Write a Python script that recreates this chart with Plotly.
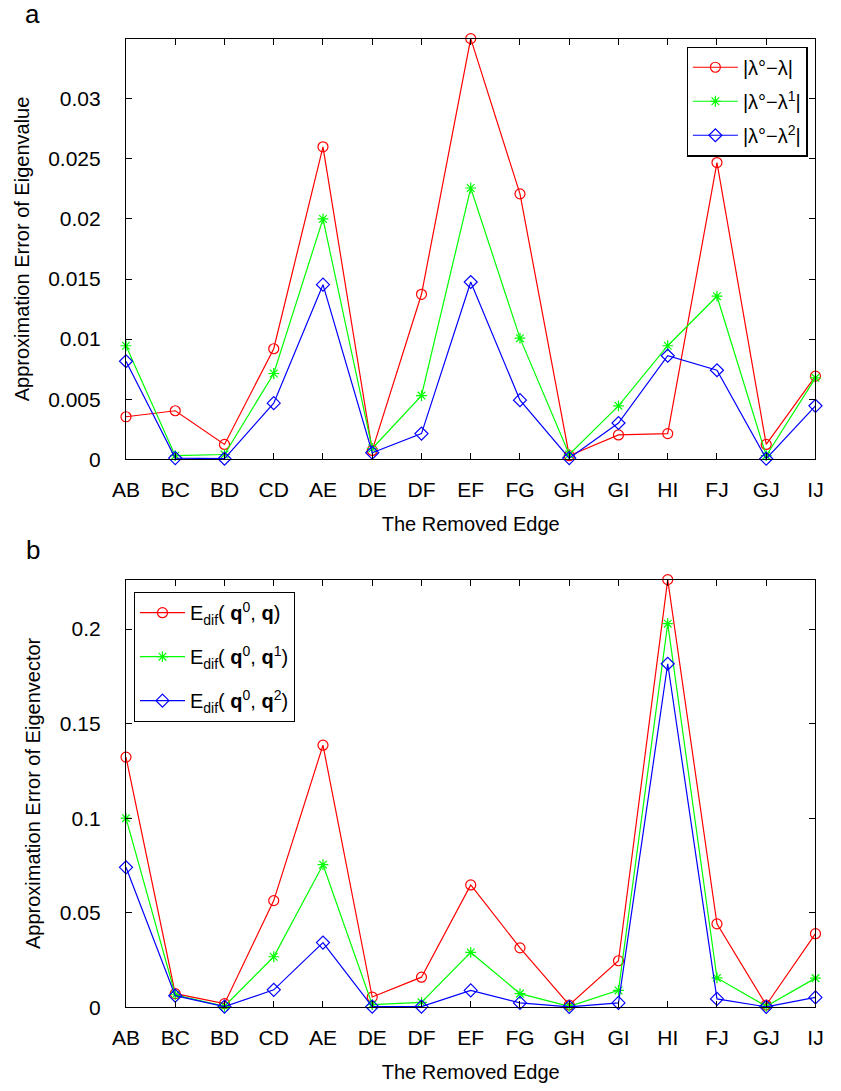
import plotly.graph_objects as go

edges = ["AB", "BC", "BD", "CD", "AE", "DE", "DF", "EF", "FG", "GH", "GI", "HI", "FJ", "GJ", "IJ"]

# Panel a: approximation error of eigenvalue
eig_err0 = [0.00354, 0.00404, 0.00124, 0.0092, 0.0260, 0.00074, 0.01373, 0.0350, 0.02208, 0.0003, 0.00203, 0.00214, 0.02469, 0.00124, 0.00692]
eig_err1 = [0.00945, 0.0003, 0.0004, 0.00714, 0.0200, 0.0009, 0.0053, 0.02257, 0.01008, 0.0004, 0.00445, 0.00945, 0.01357, 0.0003, 0.00678]
eig_err2 = [0.00816, 0.0001, 0.00005, 0.00467, 0.01453, 0.00055, 0.00214, 0.01475, 0.00492, 0.0001, 0.00302, 0.00862, 0.00741, 0.00005, 0.00445]

# Panel b: approximation error of eigenvector
vec_err0 = [0.1323, 0.0072, 0.0019, 0.0564, 0.1386, 0.0054, 0.0159, 0.0647, 0.0314, 0.0012, 0.0246, 0.2262, 0.0441, 0.0012, 0.0389]
vec_err1 = [0.1000, 0.0066, 0.0005, 0.0267, 0.0754, 0.0014, 0.0026, 0.0290, 0.0072, 0.0005, 0.0089, 0.2029, 0.0155, 0.0005, 0.0154]
vec_err2 = [0.0740, 0.0061, 0.0003, 0.0092, 0.0342, 0.0003, 0.0003, 0.0089, 0.0023, 0.0002, 0.0023, 0.1817, 0.0044, 0.0002, 0.0052]

names_a = ["|λ°−λ|", "|λ°−λ<sup>1</sup>|", "|λ°−λ<sup>2</sup>|"]
names_b = ["E<sub>dif</sub>( <b>q</b><sup>0</sup>, <b>q</b>)",
           "E<sub>dif</sub>( <b>q</b><sup>0</sup>, <b>q</b><sup>1</sup>)",
           "E<sub>dif</sub>( <b>q</b><sup>0</sup>, <b>q</b><sup>2</sup>)"]

yticks_a = [0, 0.005, 0.01, 0.015, 0.02, 0.025, 0.03]
yticktext_a = ["0", "0.005", "0.01", "0.015", "0.02", "0.025", "0.03"]
yticks_b = [0, 0.05, 0.1, 0.15, 0.2]
yticktext_b = ["0", "0.05", "0.1", "0.15", "0.2"]

colors = ["#ff0000", "#00ff00", "#0000ff"]
symbols = ["circle-open", "asterisk-open", "diamond-open"]
sizes = [10, 9, 10]

FONT = "Liberation Sans, Arial, sans-serif"
FS = 21
fig = go.Figure()

x_idx = list(range(1, len(edges) + 1))

for i, (ys, nm) in enumerate(zip([eig_err0, eig_err1, eig_err2], names_a)):
    fig.add_trace(go.Scatter(
        x=x_idx, y=ys, name=nm, mode="lines+markers", legendgroup="a%d" % i,
        line=dict(color=colors[i], width=1.2),
        marker=dict(symbol=symbols[i], size=sizes[i], color=colors[i], line=dict(width=1.2, color=colors[i])),
        xaxis="x", yaxis="y", legend="legend", cliponaxis=False))

for i, (ys, nm) in enumerate(zip([vec_err0, vec_err1, vec_err2], names_b)):
    fig.add_trace(go.Scatter(
        x=x_idx, y=ys, name=nm, mode="lines+markers", legendgroup="b%d" % i,
        line=dict(color=colors[i], width=1.2),
        marker=dict(symbol=symbols[i], size=sizes[i], color=colors[i], line=dict(width=1.2, color=colors[i])),
        xaxis="x2", yaxis="y2", legend="legend2", cliponaxis=False))

W, H = 841, 1091
xd = [115 / W, 823 / W]

common_x = dict(
    range=[1, 15], tickmode="array", tickvals=x_idx, ticktext=edges,
    ticks="inside", ticklen=6, tickcolor="black", showline=True, linecolor="black",
    linewidth=1.2, mirror="ticks", showgrid=False, zeroline=False,
    tickfont=dict(size=FS, color="black", family=FONT), ticklabelstandoff=11,
    title=dict(text="The Removed Edge", font=dict(size=FS - 1, color="black", family=FONT), standoff=17),
)
common_y = dict(
    ticks="inside", ticklen=6, tickcolor="black", showline=True, linecolor="black",
    linewidth=1.2, mirror="ticks", showgrid=False, zeroline=False,
    tickfont=dict(size=FS, color="black", family=FONT), ticklabelstandoff=20,
)

fig.update_layout(
    width=W, height=H,
    margin=dict(l=0, r=0, t=0, b=0),
    paper_bgcolor="white", plot_bgcolor="white",
    font=dict(family=FONT, color="black", size=FS),
    xaxis=dict(domain=xd, anchor="y", **common_x),
    yaxis=dict(domain=[1 - 464 / H, 1 - 39 / H], anchor="x", range=[0, 0.035],
               tickvals=yticks_a, ticktext=yticktext_a,
               title=dict(text="Approximation Error of Eigenvalue", font=dict(size=FS - 1, family=FONT), standoff=13),
               **common_y),
    xaxis2=dict(domain=xd, anchor="y2", **common_x),
    yaxis2=dict(domain=[1 - 1017.5 / H, 1 - 585.5 / H], anchor="x2", range=[0, 0.2262],
                tickvals=yticks_b, ticktext=yticktext_b,
                title=dict(text="Approximation Error of Eigenvector", font=dict(size=FS - 1, family=FONT), standoff=13),
                **common_y),
    legend=dict(x=815 / W, xanchor="right", y=1 - 47 / H, yanchor="top",
                bgcolor="white", bordercolor="black", borderwidth=1.2, tracegroupgap=5,
                itemwidth=45,
                font=dict(size=20, family=FONT, color="black")),
    legend2=dict(x=123 / W, xanchor="left", y=1 - 598 / H, yanchor="top",
                 bgcolor="white", bordercolor="black", borderwidth=1.2, tracegroupgap=15,
                 itemwidth=45,
                 font=dict(size=20, family=FONT, color="black")),
    showlegend=True,
    annotations=[
        dict(text="a", x=19 / W, y=1 - 14 / H, xref="paper", yref="paper", xanchor="center", yanchor="middle",
             showarrow=False, font=dict(size=26, family=FONT, color="black")),
        dict(text="b", x=19 / W, y=1 - 556 / H, xref="paper", yref="paper", xanchor="center", yanchor="middle",
             showarrow=False, font=dict(size=26, family=FONT, color="black")),
    ],
)

fig.write_html("out.html")
